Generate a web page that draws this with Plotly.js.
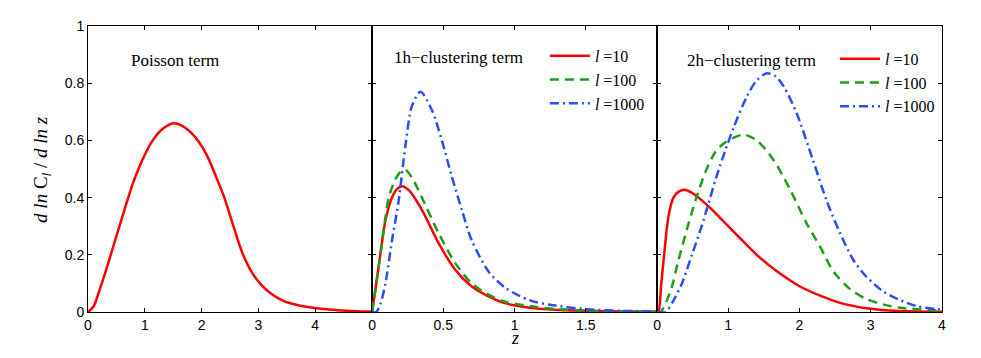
<!DOCTYPE html>
<html>
<head>
<meta charset="utf-8">
<script src="https://cdn.plot.ly/plotly-3.0.1.min.js"></script>
<style>
  html, body { margin: 0; padding: 0; background: white; }
  #plot { width: 981px; height: 358px; }
</style>
</head>
<body>
<div id="plot"></div>
<script>
// Data (z vs d ln C_l / d ln z)

// Poisson term
var poissonZ = [0, 0.1, 0.2, 0.3, 0.4, 0.5, 0.6, 0.7, 0.8, 0.9, 1.0, 1.14, 1.3, 1.5, 1.65, 1.8, 1.95, 2.1, 2.25, 2.4, 2.56, 2.72, 2.88, 3.05, 3.25, 3.43, 3.65, 3.84, 4.1, 4.4, 4.7, 5];
var poissonY = [0, 0.02, 0.075, 0.135, 0.2, 0.265, 0.33, 0.395, 0.455, 0.505, 0.55, 0.6, 0.638, 0.66, 0.652, 0.63, 0.595, 0.545, 0.475, 0.4, 0.3, 0.205, 0.14, 0.095, 0.06, 0.04, 0.026, 0.018, 0.011, 0.006, 0.003, 0.002];

// 1h-clustering term
var oneZ10 = [0, 0.03, 0.058, 0.094, 0.14, 0.175, 0.21, 0.26, 0.35, 0.468, 0.585, 0.7, 0.82, 0.94, 1.12, 1.25, 1.5, 1.75, 2];
var oneY10 = [0, 0.1, 0.2, 0.32, 0.4, 0.43, 0.44, 0.425, 0.357, 0.24, 0.147, 0.089, 0.054, 0.03, 0.014, 0.009, 0.004, 0.002, 0.001];
var oneZ100 = [0, 0.03, 0.058, 0.094, 0.117, 0.16, 0.2, 0.234, 0.28, 0.35, 0.468, 0.585, 0.7, 0.82, 0.94, 1.12, 1.25, 1.5, 1.75, 2];
var oneY100 = [0, 0.1, 0.2, 0.33, 0.4, 0.46, 0.49, 0.497, 0.47, 0.4, 0.275, 0.17, 0.1, 0.06, 0.035, 0.02, 0.012, 0.005, 0.002, 0.001];
var oneZ1000 = [0, 0.03, 0.06, 0.094, 0.14, 0.187, 0.234, 0.28, 0.34, 0.42, 0.49, 0.56, 0.63, 0.7, 0.82, 0.94, 1.1, 1.25, 1.5, 1.75, 2];
var oneY1000 = [0, 0, 0.03, 0.1, 0.25, 0.39, 0.58, 0.72, 0.77, 0.706, 0.6, 0.473, 0.357, 0.25, 0.14, 0.083, 0.042, 0.025, 0.01, 0.004, 0.002];

// 2h-clustering term
var twoZ10 = [0, 0.02, 0.06, 0.1, 0.16, 0.23, 0.3, 0.4, 0.5, 0.75, 0.94, 1.17, 1.4, 1.64, 1.87, 2.0, 2.29, 2.57, 2.94, 3.2, 3.5, 4];
var twoY10 = [0, 0, 0.1, 0.2, 0.333, 0.4, 0.42, 0.427, 0.415, 0.363, 0.315, 0.257, 0.2, 0.15, 0.11, 0.09, 0.057, 0.032, 0.013, 0.006, 0.003, 0.001];
var twoZ100 = [0, 0.05, 0.13, 0.21, 0.3, 0.42, 0.54, 0.68, 0.82, 0.94, 1.08, 1.22, 1.4, 1.64, 1.87, 2.1, 2.29, 2.48, 2.71, 2.94, 3.2, 3.41, 3.88, 4];
var twoY100 = [0, 0, 0.035, 0.09, 0.18, 0.29, 0.39, 0.49, 0.56, 0.59, 0.61, 0.62, 0.6, 0.53, 0.427, 0.31, 0.228, 0.14, 0.08, 0.045, 0.025, 0.015, 0.006, 0.005];
var twoZ1000 = [0, 0.12, 0.23, 0.35, 0.49, 0.6, 0.7, 0.83, 0.96, 1.08, 1.26, 1.4, 1.54, 1.66, 1.78, 1.96, 2.19, 2.38, 2.57, 2.76, 2.94, 3.18, 3.41, 3.64, 3.92, 4];
var twoY1000 = [0, 0, 0.04, 0.1, 0.2, 0.28, 0.36, 0.47, 0.566, 0.648, 0.753, 0.81, 0.835, 0.825, 0.788, 0.695, 0.53, 0.39, 0.275, 0.18, 0.123, 0.071, 0.042, 0.021, 0.01, 0.008];

var legendNames = ["<i>l</i> =10", "<i>l</i> =100", "<i>l</i> =1000"];

// line styles
var redLine = { color: "#ff0000", width: 2.5, shape: "spline", smoothing: 0.8 };
var greenLine = { color: "#1f9e14", width: 2.5, dash: "9px,6px", shape: "spline", smoothing: 0.8 };
var blueLine = { color: "#2a4dff", width: 2.5, dash: "9px,4px,2px,4px", shape: "spline", smoothing: 0.8 };

var trace0 = { x: poissonZ, y: poissonY, mode: "lines", type: "scatter", line: redLine, showlegend: false, xaxis: "x", yaxis: "y" };

var trace1 = { x: oneZ10, y: oneY10, mode: "lines", type: "scatter", name: legendNames[0], line: redLine, xaxis: "x2", yaxis: "y2", legend: "legend" };
var trace2 = { x: oneZ100, y: oneY100, mode: "lines", type: "scatter", name: legendNames[1], line: greenLine, xaxis: "x2", yaxis: "y2", legend: "legend" };
var trace3 = { x: oneZ1000, y: oneY1000, mode: "lines", type: "scatter", name: legendNames[2], line: blueLine, xaxis: "x2", yaxis: "y2", legend: "legend" };

var trace4 = { x: twoZ10, y: twoY10, mode: "lines", type: "scatter", name: legendNames[0], line: redLine, xaxis: "x3", yaxis: "y3", legend: "legend2" };
var trace5 = { x: twoZ100, y: twoY100, mode: "lines", type: "scatter", name: legendNames[1], line: greenLine, xaxis: "x3", yaxis: "y3", legend: "legend2" };
var trace6 = { x: twoZ1000, y: twoY1000, mode: "lines", type: "scatter", name: legendNames[2], line: blueLine, xaxis: "x3", yaxis: "y3", legend: "legend2" };

var data = [trace0, trace1, trace2, trace3, trace4, trace5, trace6];

function axisStyle(extra) {
  var a = {
    showline: true, linecolor: "black", linewidth: 1, mirror: "ticks",
    ticks: "inside", ticklen: 4, tickcolor: "black", tickwidth: 1,
    showgrid: false, zeroline: false, fixedrange: true
  };
  for (var k in extra) a[k] = extra[k];
  return a;
}

var serif = "Liberation Serif";
function legendStyle(x, y) {
  return {
    x: x, y: y,
    font: { family: serif, size: 16, color: "black" },
    bgcolor: "rgba(0,0,0,0)", borderwidth: 0, itemwidth: 40,
    xanchor: "left", yanchor: "top"
  };
}

var layout = {
  width: 981,
  height: 358,
  margin: { l: 88, r: 39, t: 26, b: 46 },
  paper_bgcolor: "white",
  plot_bgcolor: "white",
  font: { family: "Liberation Sans", size: 14, color: "black" },
  xaxis: axisStyle({ domain: [0, 0.3326], range: [0, 5], tickvals: [0, 1, 2, 3, 4], anchor: "y" }),
  xaxis2: axisStyle({ domain: [0.3326, 0.6663], range: [0, 2], tickvals: [0, 0.5, 1, 1.5], anchor: "y2" }),
  xaxis3: axisStyle({ domain: [0.6663, 1], range: [0, 4], tickvals: [0, 1, 2, 3, 4], anchor: "y3" }),
  yaxis: axisStyle({ range: [0, 1], dtick: 0.2, anchor: "x" }),
  yaxis2: axisStyle({ range: [0, 1], dtick: 0.2, anchor: "x2", showticklabels: false }),
  yaxis3: axisStyle({ range: [0, 1], dtick: 0.2, anchor: "x3", showticklabels: false }),
  legend: legendStyle(0.535, 0.955),
  legend2: legendStyle(0.8747, 0.945),
  annotations: [
    { text: "Poisson term", xref: "x", yref: "y", x: 0.72, y: 0.88, xanchor: "left", yanchor: "middle", showarrow: false, font: { family: serif, size: 17 } },
    { text: "1h\u2212clustering term", xref: "x2", yref: "y2", x: 0.14, y: 0.89, xanchor: "left", yanchor: "middle", showarrow: false, font: { family: serif, size: 17 } },
    { text: "2h\u2212clustering term", xref: "x3", yref: "y3", x: 0.39, y: 0.88, xanchor: "left", yanchor: "middle", showarrow: false, font: { family: serif, size: 17 } },
    { text: "<i>d ln</i> C<sub><i>l</i></sub> / <i>d ln z</i>", xref: "paper", yref: "paper", x: -0.054, y: 0.5, textangle: -90, xanchor: "center", yanchor: "middle", showarrow: false, font: { family: serif, size: 19 } },
    { text: "<i>z</i>", xref: "paper", yref: "paper", x: 0.5, y: -0.092, xanchor: "center", yanchor: "middle", showarrow: false, font: { family: serif, size: 18 } }
  ]
};

// Plot the chart to a div tag with id "plot"
Plotly.newPlot("plot", data, layout, { displayModeBar: false, staticPlot: true });
</script>
</body>
</html>
